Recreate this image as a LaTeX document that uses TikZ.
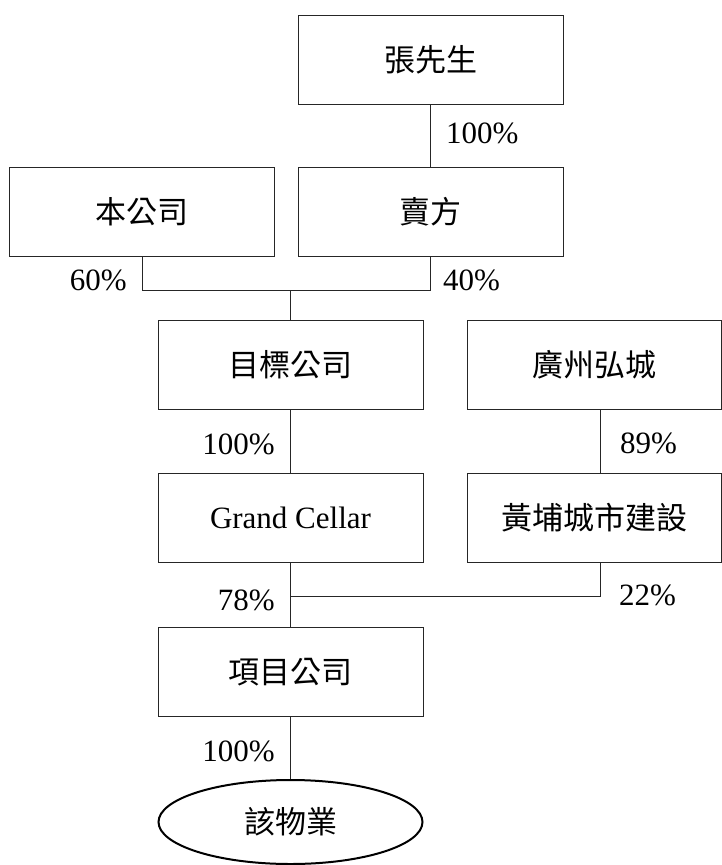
\documentclass[tikz,border=0pt]{standalone}
\usepackage{fontspec}
\setmainfont{Liberation Serif}
\newfontfamily\cjk{Noto Sans CJK TC}
\usetikzlibrary{shapes.geometric}
\begin{document}
\begin{tikzpicture}[x=1pt,y=-1pt,
  box/.style={draw=black!85,line width=1pt,inner sep=0pt,minimum height=89pt,font=\cjk\fontsize{31}{34}\selectfont},
  wide/.style={box,minimum width=265pt},
  rbox/.style={box,minimum width=254pt},
  pct/.style={inner sep=0pt,font=\fontsize{31}{34}\selectfont},
  link/.style={draw=black!85,line width=1pt}]
\useasboundingbox (0,0) rectangle (722,865);
\node[wide] (zhang) at (430.5,59.5) {張先生};
\node[wide] (ben) at (142,212) {本公司};
\node[wide] (seller) at (430.5,212) {賣方};
\node[wide] (target) at (290.5,364.5) {目標公司};
\node[rbox] (gz) at (594,364.5) {廣州弘城};
\node[wide,font=\fontsize{31}{34}\selectfont] (grand) at (290.5,518) {Grand Cellar};
\node[rbox] (hp) at (594.5,518) {黃埔城市建設};
\node[wide] (proj) at (290.5,672) {項目公司};
\node[ellipse,draw=black,line width=2pt,minimum width=264pt,minimum height=84pt,inner sep=0pt,font=\cjk\fontsize{31}{34}\selectfont] (prop) at (290.5,822) {該物業};
% connectors
\coordinate (j1) at (290.5,290);
\coordinate (hpx) at (600,409);
\coordinate (hpx2) at (600,563);
\coordinate (j2) at (290.5,596);
\draw[link] (zhang.south) -- (seller.north);
\draw[link] (ben.south) |- (j1);
\draw[link] (seller.south) |- (j1);
\draw[link] (j1) -- (target.north);
\draw[link] (target.south) -- (grand.north);
\draw[link] (hpx) -- (hpx |- hp.north);
\draw[link] (grand.south) -- (proj.north);
\draw[link] (hpx2) |- (j2);
\draw[link] (proj.south) -- (prop.north);
% labels
\node[pct,anchor=base west] (l1) at (446,143) {100\%};
\node[pct,anchor=base east] (l2) at (127,290) {60\%};
\node[pct,anchor=base west] (l3) at (443,290) {40\%};
\node[pct,anchor=base east] (l4) at (275,454) {100\%};
\node[pct,anchor=base west] (l5) at (620,453) {89\%};
\node[pct,anchor=base east] (l6) at (275,610) {78\%};
\node[pct,anchor=base west] (l7) at (619,605) {22\%};
\node[pct,anchor=base east] (l8) at (275,761) {100\%};
\end{tikzpicture}
\end{document}
